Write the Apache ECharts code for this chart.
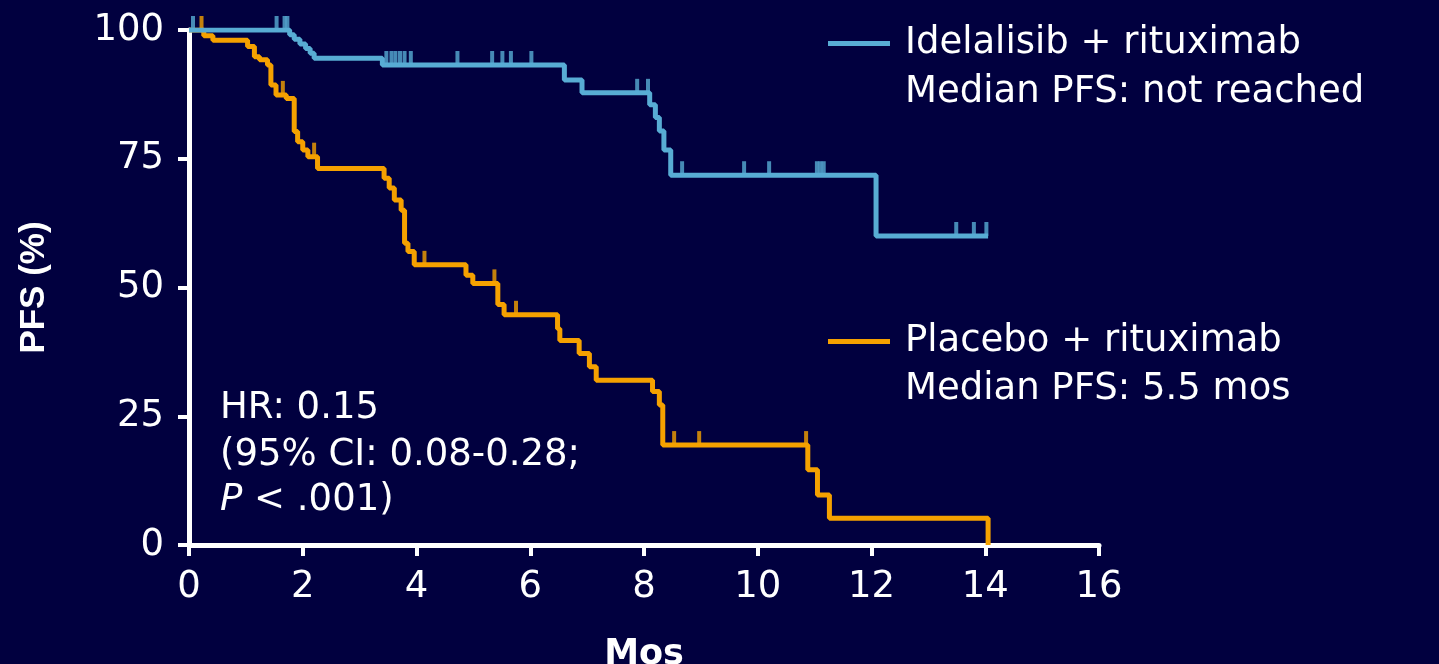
<!DOCTYPE html>
<html>
<head>
<meta charset="utf-8">
<script src="https://cdn.jsdelivr.net/npm/echarts@6/dist/echarts.min.js"></script>
<style>
html,body{margin:0;padding:0;background:#01003f;}
#chart{width:1439px;height:664px;}
</style>
</head>
<body>
<div id="chart"></div>
<script>
// ---- data ----
const xTicks = [0, 2, 4, 6, 8, 10, 12, 14, 16];
const yTicks = [0, 25, 50, 75, 100];
const seriesNames = ['Idelalisib + rituximab', 'Placebo + rituximab'];
const medianLabels = ['Median PFS: not reached', 'Median PFS: 5.5 mos'];
const statLines = ['HR: 0.15', '(95% CI: 0.08-0.28;', 'P < .001)'];

// Kaplan-Meier steps [month, PFS %]
const idelaSteps = [[0,100],[1.77,99.1],[1.85,98.2],[1.95,97.3],[2.05,96.4],[2.13,95.5],[2.2,94.5],
  [3.40,93.2],[6.6,90.3],[6.91,87.8],[8.1,85.5],[8.2,83.0],[8.27,80.4],[8.35,76.7],[8.47,71.8],
  [12.08,60.0],[14.05,60.0]];
const placeboSteps = [[0,100],[0.26,98.9],[0.42,98.0],[1.03,96.8],[1.15,94.8],[1.24,94.2],[1.38,93.2],
  [1.44,89.3],[1.53,87.4],[1.71,86.7],[1.85,80.3],[1.91,78.3],[2.0,76.7],[2.09,75.4],[2.26,73.1],
  [3.43,71.2],[3.52,69.3],[3.61,67.0],[3.73,65.0],[3.79,58.6],[3.85,57.0],[3.96,54.4],[4.87,52.4],
  [4.99,50.8],[5.43,46.7],[5.54,44.7],[6.48,42.0],[6.52,39.7],[6.86,37.2],[7.04,34.6],[7.16,32.0],
  [8.15,29.8],[8.27,27.2],[8.33,19.4],[10.88,14.6],[11.05,9.7],[11.26,5.2],[14.05,0]];

// censored times (months)
const idelaCensored = [0.07,1.54,1.68,1.73,3.47,3.56,3.63,3.71,3.79,3.9,4.72,5.33,5.51,5.66,6.02,
  7.88,8.07,8.67,9.76,10.2,11.04,11.1,11.16,13.49,13.8,14.02];
const placeboCensored = [0.22,1.65,2.2,4.14,5.37,5.75,8.53,8.97,10.85];

// ---- styling ----
const BG = '#01003f';
const BLUE = '#58acd4';
const ORANGE = '#f5a100';
const WHITE = '#ffffff';
const FONT = 'DejaVu Sans';
const FS = 37;

function levelAt(steps, t) {
  let v = steps[0][1];
  for (const p of steps) { if (p[0] <= t) v = p[1]; else break; }
  return v;
}
const censorPts = (steps, times) => times.map(t => [t, levelAt(steps, t)]);

const chart = echarts.init(document.getElementById('chart'), null, {renderer: 'canvas'});

const option = {
  backgroundColor: BG,
  animation: false,
  grid: {left: 189, right: 340, top: 30, bottom: 119, containLabel: false, outerBoundsMode: 'none'},
  xAxis: {
    type: 'value', min: xTicks[0], max: xTicks[xTicks.length - 1], interval: 2,
    name: 'Mos', nameLocation: 'middle', nameGap: 92,
    nameTextStyle: {color: WHITE, fontFamily: FONT, fontWeight: 'bold', fontSize: 35},
    axisLine: {show: true, lineStyle: {color: WHITE, width: 5}},
    axisTick: {show: true, length: 11, lineStyle: {color: WHITE, width: 4}},
    axisLabel: {color: WHITE, fontFamily: FONT, fontSize: FS, margin: 24},
    splitLine: {show: false}
  },
  yAxis: {
    type: 'value', min: yTicks[0], max: yTicks[yTicks.length - 1], interval: 25,
    name: 'PFS (%)', nameLocation: 'middle', nameGap: 137, nameRotate: 90,
    nameTextStyle: {color: WHITE, fontFamily: 'Liberation Sans', fontWeight: 'bold', fontSize: 35},
    axisLine: {show: true, lineStyle: {color: WHITE, width: 5}},
    axisTick: {show: true, length: 11, lineStyle: {color: WHITE, width: 4}},
    axisLabel: {color: WHITE, fontFamily: FONT, fontSize: FS, margin: 25},
    splitLine: {show: false}
  },
  legend: [
    {
      data: [seriesNames[0]], left: 828, top: 25, padding: 0, icon: 'rect', itemWidth: 62, itemHeight: 5,
      textStyle: {color: WHITE, fontFamily: FONT, fontSize: FS, padding: [0, 0, 0, 10]},
      selectedMode: false
    },
    {
      data: [seriesNames[1]], left: 828, top: 323, padding: 0, icon: 'rect', itemWidth: 62, itemHeight: 5,
      textStyle: {color: WHITE, fontFamily: FONT, fontSize: FS, padding: [0, 0, 0, 10]},
      selectedMode: false
    }
  ],
  graphic: [
    {type: 'text', x: 905, y: 92, style: {text: medianLabels[0], fill: WHITE, font: FS + 'px "' + FONT + '"', verticalAlign: 'middle'}},
    {type: 'text', x: 905, y: 389, style: {text: medianLabels[1], fill: WHITE, font: FS + 'px "' + FONT + '"', verticalAlign: 'middle'}},
    {type: 'text', x: 220, y: 408, style: {text: statLines[0], fill: WHITE, font: FS + 'px "' + FONT + '"', verticalAlign: 'middle'}},
    {type: 'text', x: 220, y: 455, style: {text: statLines[1], fill: WHITE, font: FS + 'px "' + FONT + '"', verticalAlign: 'middle'}},
    {type: 'text', x: 220, y: 500, style: {
      text: '{i|' + statLines[2].slice(0, 1) + '}{n|' + statLines[2].slice(1) + '}',
      verticalAlign: 'middle',
      rich: {
        i: {fill: WHITE, fontFamily: FONT, fontSize: FS, fontStyle: 'italic'},
        n: {fill: WHITE, fontFamily: FONT, fontSize: FS}
      }
    }}
  ],
  series: [
    {
      name: seriesNames[1], type: 'line', step: 'end', data: placeboSteps,
      showSymbol: false, symbol: 'none', lineStyle: {color: ORANGE, width: 5}, itemStyle: {color: ORANGE},
      z: 3
    },
    {
      name: 'placebo-censored', type: 'scatter', data: censorPts(placeboSteps, placeboCensored),
      symbol: 'rect', symbolSize: [4, 14], symbolOffset: [0, '-50%'], itemStyle: {color: ORANGE}, z: 3
    },
    {
      name: seriesNames[0], type: 'line', step: 'end', data: idelaSteps,
      showSymbol: false, symbol: 'none', lineStyle: {color: BLUE, width: 5}, itemStyle: {color: BLUE},
      z: 4
    },
    {
      name: 'idela-censored', type: 'scatter', data: censorPts(idelaSteps, idelaCensored),
      symbol: 'rect', symbolSize: [4, 14], symbolOffset: [0, '-50%'], itemStyle: {color: BLUE}, z: 4
    }
  ]
};
chart.setOption(option);
</script>
</body>
</html>
